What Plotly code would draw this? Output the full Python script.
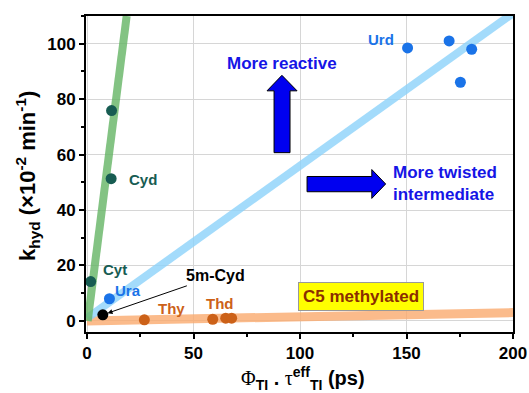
import plotly.graph_objects as go

# Data
cyd_x = [11.5, 11.3]
cyd_y = [75.9, 51.3]
cyt_x = [1.7]
cyt_y = [14.2]
ura_x = [10.5]
ura_y = [8.0]
m5cyd_x = [7.4]
m5cyd_y = [2.2]
thy_x = [26.9]
thy_y = [0.4]
thd_x = [59.0, 65.1, 67.9]
thd_y = [0.6, 1.0, 1.0]
urd_x = [150.5, 170.0, 180.6, 175.3]
urd_y = [98.5, 101.0, 98.0, 86.1]

# Fit lines (endpoints)
green_x = [0.3, 18.6]
green_y = [0.0, 110.0]
blue_x = [0.0, 200.0]
blue_y = [1.0, 111.0]
orange_x = [0.0, 200.0]
orange_y = [0.0, 3.0]

teal = "#175c52"
blue = "#1a73e8"
orange = "#cc6118"
font_fam = "Arial, 'Liberation Sans', sans-serif"

fig = go.Figure()
fig.add_trace(go.Scatter(x=orange_x, y=orange_y, mode="lines",
                         line=dict(color="rgba(250,170,110,0.8)", width=9), hoverinfo="skip"))
fig.add_trace(go.Scatter(x=blue_x, y=blue_y, mode="lines",
                         line=dict(color="rgba(140,210,250,0.8)", width=8), hoverinfo="skip"))
fig.add_trace(go.Scatter(x=green_x, y=green_y, mode="lines",
                         line=dict(color="rgba(100,180,100,0.8)", width=8), hoverinfo="skip"))

def pts(x, y, c):
    fig.add_trace(go.Scatter(x=x, y=y, mode="markers",
                             marker=dict(color=c, size=11, line=dict(width=0))))

pts(cyd_x, cyd_y, teal)
pts(cyt_x, cyt_y, teal)
pts(ura_x, ura_y, blue)
pts(urd_x, urd_y, blue)
pts(thy_x, thy_y, orange)
pts(thd_x, thd_y, orange)
pts(m5cyd_x, m5cyd_y, "black")

# Block arrows
up_arrow = "M 87.8 60.7 L 95.3 60.7 L 95.3 83.0 L 98.6 83.0 L 91.5 88.6 L 84.5 83.0 L 87.8 83.0 Z"
right_arrow = "M 103.3 46.6 L 133.7 46.6 L 133.7 44.2 L 140.2 49.4 L 133.7 54.6 L 133.7 52.1 L 103.3 52.1 Z"
for p in (up_arrow, right_arrow):
    fig.add_shape(type="path", path=p, xref="x", yref="y",
                  fillcolor="#0000f0", line=dict(color="black", width=1))

def px2paper(px, py):
    return (px - 86) / 427, (332 - py) / 316

def lab(px, py, text, color, size=15, xanchor="center", align="center", angle=0):
    xx, yy = px2paper(px, py)
    fig.add_annotation(x=xx, y=yy, xref="paper", yref="paper", text=f"<b>{text}</b>",
                       showarrow=False, align=align, textangle=angle,
                       font=dict(color=color, size=size, family=font_fam),
                       xanchor=xanchor, yanchor="middle")

lab(381, 40, "Urd", blue, 15)
lab(143, 179, "Cyd", teal, 15)
lab(115, 269, "Cyt", teal, 15)
lab(128, 290, "Ura", blue, 15)
lab(171, 308, "Thy", orange, 15)
lab(220, 303, "Thd", orange, 15)
lab(282, 63, "More reactive", "#1515e6", 17)
lab(391, 184, "More twisted<br>intermediate", "#1515e6", 17, xanchor="left", align="left")

# axis titles
lab(27, 176, "k<sub>hyd</sub> (×10<sup>-2</sup> min<sup>-1</sup>)", "black", 22, angle=-90)
serif = "font-family:Liberation Serif;font-weight:normal"
lab(303, 379, f"<span style='{serif}'>Φ</span><sub>TI</sub> . <span style='{serif}'>τ</span>"
              f"<sup>eff</sup><sub>TI</sub> (ps)", "black", 20)

fig.add_annotation(x=m5cyd_x[0], y=m5cyd_y[0], xref="x", yref="y", text="<b>5m-Cyd</b>",
                   showarrow=True, ax=113, ay=-39, arrowhead=2, arrowsize=1, arrowwidth=1,
                   arrowcolor="black", standoff=5,
                   font=dict(color="black", size=16, family=font_fam))

xx, yy = px2paper(424, 311)
fig.add_annotation(x=xx, y=yy, xref="paper", yref="paper", text="<b>C5 methylated</b>",
                   showarrow=False, bgcolor="#ffff00", bordercolor="#999999", borderwidth=1,
                   borderpad=4, font=dict(color="#8a2e00", size=17, family=font_fam))

axis_common = dict(showline=True, linecolor="black", linewidth=2, mirror=True,
                   ticks="outside", ticklen=5, tickwidth=1.5, tickcolor="black",
                   showgrid=True, gridcolor="#d6d6d6", gridwidth=1, zeroline=False,
                   automargin=False, ticklabeloverflow="allow",
                   tickprefix="<b>", ticksuffix="</b>",
                   tickfont=dict(size=17, family=font_fam, color="black"))

fig.update_xaxes(range=[-0.5, 200], dtick=50, tick0=0,
                 minor=dict(dtick=25, ticks="outside", ticklen=3, tickcolor="black", showgrid=False),
                 **axis_common)
fig.update_yaxes(range=[-4, 110], dtick=20, tick0=0,
                 minor=dict(dtick=10, ticks="outside", ticklen=3, tickcolor="black", showgrid=False),
                 **axis_common)

fig.update_layout(width=529, height=393, margin=dict(l=86, r=16, t=16, b=61),
                  plot_bgcolor="white", paper_bgcolor="white", showlegend=False,
                  hovermode=False)

# remove the default 8px page margin so the figure fills the window exactly
fig.write_html("out.html", config={"displayModeBar": False},
               post_script="document.body.style.margin='0';document.body.style.overflow='hidden';")
